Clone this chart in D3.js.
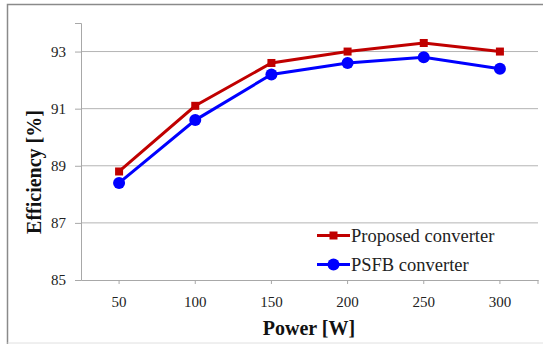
<!DOCTYPE html>
<html>
<head>
<meta charset="utf-8">
<script src="https://cdn.jsdelivr.net/npm/d3@7"></script>
<style>
  body { margin: 0; background: #fff; }
  svg { display: block; }
  text { font-family: "Liberation Serif", "Times New Roman", serif; }
</style>
</head>
<body>
<svg id="chart"></svg>
<script>
// data
const powers = [50, 100, 150, 200, 250, 300];
const proposed = [88.8, 91.1, 92.6, 93.0, 93.3, 93.0];
const psfb = [88.4, 90.6, 92.2, 92.6, 92.8, 92.4];
const yTicks = [85, 87, 89, 91, 93];
const seriesNames = ['Proposed converter', 'PSFB converter'];

const width = 543;
const height = 344;
const margin = { left: 81, right: 5, top: 23, bottom: 64 };

const svg = d3.select('#chart')
  .attr('width', width)
  .attr('height', height);

// outer frame
svg.append('path')
  .attr('d', `M7.5,${height} V4.5 H${width}`)
  .attr('fill', 'none')
  .attr('stroke', '#8a8a8a')
  .attr('stroke-width', 1.5);
svg.append('line')
  .attr('x1', 7.5).attr('x2', width)
  .attr('y1', 343).attr('y2', 343)
  .attr('stroke', '#e0e0e0');

const x = d3.scaleBand()
  .domain(powers)
  .range([margin.left, width - margin.right]);

const y = d3.scaleLinear()
  .domain([85, 94])
  .range([height - margin.bottom, margin.top]);

const cx = d => x(d) + x.bandwidth() / 2;

// gridlines
svg.append('g')
  .selectAll('line')
  .data(yTicks.slice(1))
  .enter()
  .append('line')
  .attr('x1', margin.left)
  .attr('x2', width - margin.right)
  .attr('y1', d => y(d))
  .attr('y2', d => y(d))
  .attr('stroke', '#b4b4b4')
  .attr('stroke-width', 1);

// y axis
const yAxis = svg.append('g')
  .attr('transform', `translate(${margin.left},0)`)
  .call(d3.axisLeft(y).tickValues(yTicks).tickSize(6).tickPadding(9));
yAxis.select('.domain').attr('stroke', '#a8a8a8');
yAxis.selectAll('.tick line').attr('stroke', '#a8a8a8');
yAxis.selectAll('.tick text')
  .attr('font-family', '"Liberation Serif", serif')
  .attr('font-size', 15)
  .attr('fill', '#222');

// x axis
const xAxis = svg.append('g')
  .attr('transform', `translate(0,${y(85)})`)
  .call(d3.axisBottom(x).tickSize(4).tickPadding(12).tickSizeOuter(0));
xAxis.select('.domain').attr('stroke', '#a8a8a8');
xAxis.selectAll('.tick line').attr('stroke', '#a8a8a8');
xAxis.selectAll('.tick text')
  .attr('font-family', '"Liberation Serif", serif')
  .attr('font-size', 15)
  .attr('fill', '#222');
xAxis.append('line')
  .attr('x1', width - margin.right).attr('x2', width - margin.right)
  .attr('y1', 0).attr('y2', 4)
  .attr('stroke', '#a8a8a8');

// axis titles
svg.append('text')
  .attr('x', 309)
  .attr('y', 335)
  .attr('text-anchor', 'middle')
  .attr('font-size', 20)
  .attr('font-weight', 'bold')
  .attr('fill', '#111')
  .text('Power [W]');

svg.append('text')
  .attr('transform', `translate(41,172) rotate(-90)`)
  .attr('text-anchor', 'middle')
  .attr('font-size', 20)
  .attr('font-weight', 'bold')
  .attr('fill', '#111')
  .text('Efficiency [%]');

const line = d3.line()
  .x((d, i) => cx(powers[i]))
  .y(d => y(d));

const red = '#c00000';
const blue = '#0000ff';

// proposed converter
svg.append('path')
  .datum(proposed)
  .attr('d', line)
  .attr('fill', 'none')
  .attr('stroke', red)
  .attr('stroke-width', 3);
svg.append('g')
  .selectAll('rect')
  .data(proposed)
  .enter()
  .append('rect')
  .attr('x', (d, i) => cx(powers[i]) - 4)
  .attr('y', d => y(d) - 4)
  .attr('width', 8)
  .attr('height', 8)
  .attr('fill', red);

// psfb converter
svg.append('path')
  .datum(psfb)
  .attr('d', line)
  .attr('fill', 'none')
  .attr('stroke', blue)
  .attr('stroke-width', 3);
svg.append('g')
  .selectAll('circle')
  .data(psfb)
  .enter()
  .append('circle')
  .attr('cx', (d, i) => cx(powers[i]))
  .attr('cy', d => y(d))
  .attr('r', 6)
  .attr('fill', blue);

// legend
const legend = svg.append('g').attr('transform', 'translate(317,235.5)');
seriesNames.forEach((name, i) => {
  const g = legend.append('g').attr('transform', `translate(0,${i * 29})`);
  const col = i === 0 ? red : blue;
  g.append('line')
    .attr('x1', 0).attr('x2', 33)
    .attr('stroke', col)
    .attr('stroke-width', 3);
  if (i === 0) {
    g.append('rect').attr('x', 12.5).attr('y', -4).attr('width', 8).attr('height', 8).attr('fill', col);
  } else {
    g.append('circle').attr('cx', 16.5).attr('r', 6).attr('fill', col);
  }
  g.append('text')
    .attr('x', 34)
    .attr('y', 6)
    .attr('font-size', 18.5)
    .attr('fill', '#222')
    .text(name);
});
</script>
</body>
</html>
